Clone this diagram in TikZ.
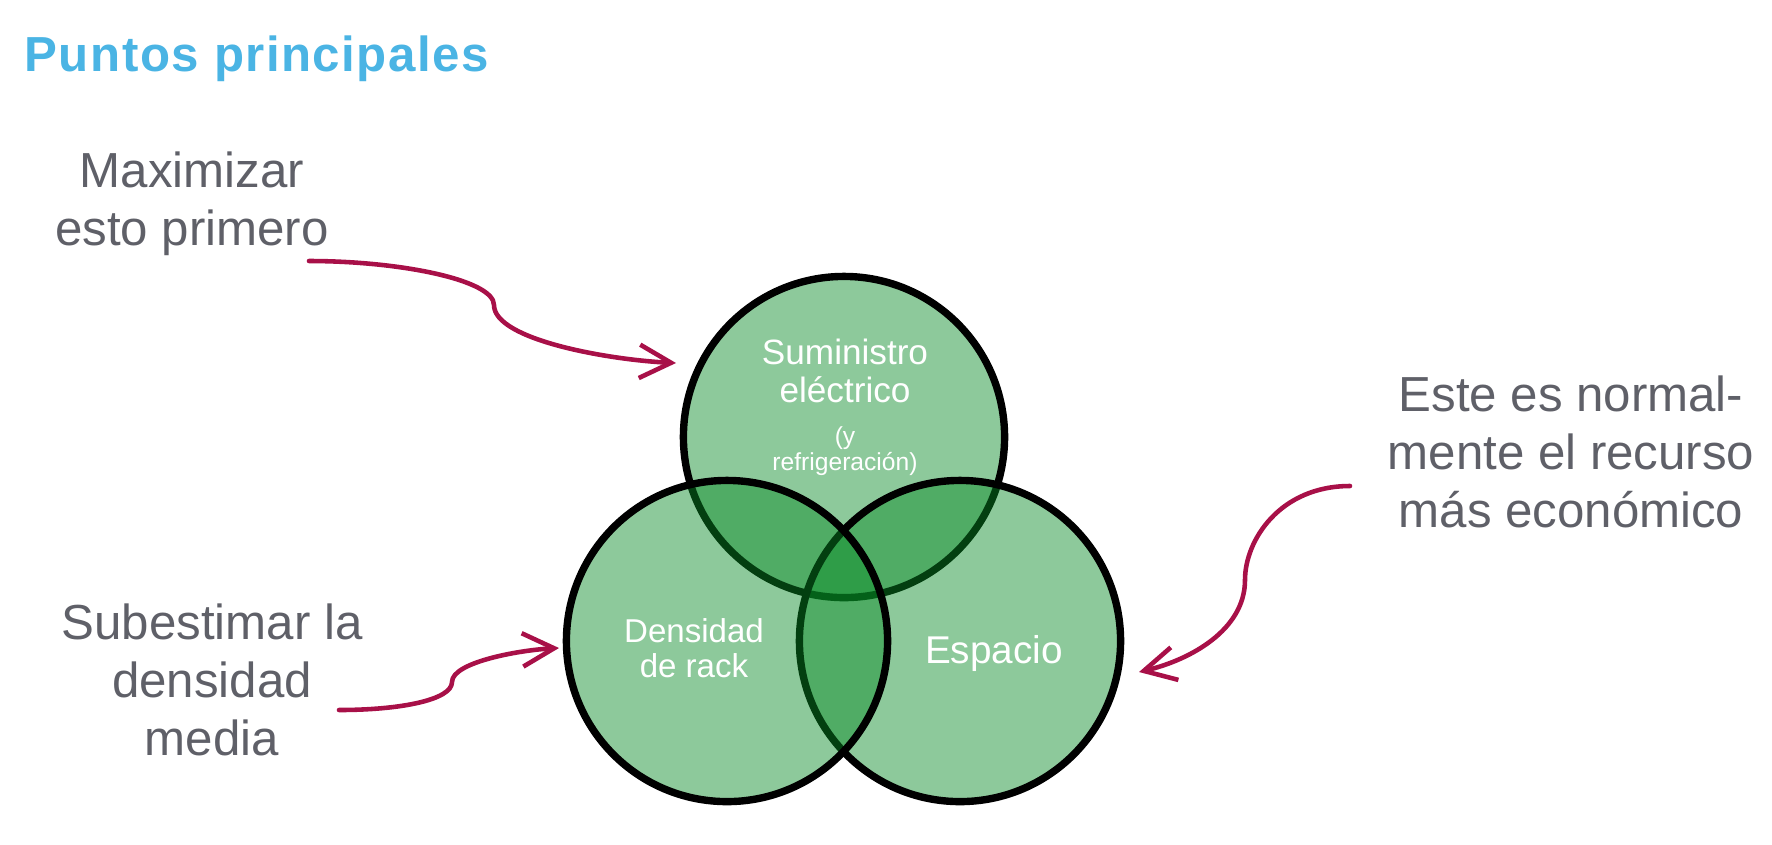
\documentclass[tikz,border=0pt]{standalone}
\usepackage{fontspec}
\setmainfont{Liberation Sans}
\usetikzlibrary{positioning, arrows.meta}

\definecolor{titleblue}{RGB}{74,180,228}
\definecolor{notegray}{RGB}{95,96,104}
\definecolor{arrowred}{RGB}{168,16,72}
\definecolor{vennfill}{RGB}{7,138,37}

\begin{document}
\begin{tikzpicture}[x=0.01cm, y=-0.01cm,
    venn/.style={circle, draw=black, line width=2.1pt, fill=vennfill, fill opacity=0.46, minimum size=3.21cm, inner sep=0pt},
    notetext/.style={text=notegray, align=center, inner sep=0pt, font=\fontsize{14}{16.4}\selectfont},
    inset/.style={text=white, align=center, inner sep=0pt},
    pointer/.style={arrowred, line width=1.3pt, line cap=round, -{Straight Barb[length=9pt, width=9.5pt]}}]
    \useasboundingbox (0,0) rectangle (1772,844);

    % Title
    \node[anchor=base west, inner sep=0pt, text=titleblue, font=\fontsize{14}{16}\selectfont\bfseries\addfontfeature{LetterSpace=3}] (title) at (24,71) {Puntos principales};

    % Venn circles (top first, then right, then left)
    \node[venn] (power) at (844,437) {};
    \node[venn] (space) at (960,641) {};
    \node[venn] (rack) at (727,641) {};

    % Circle labels
    \node[inset, font=\fontsize{10}{10.6}\selectfont] (powerlbl) at (845,371) {Suministro\\eléctrico};
    \node[inset, font=\fontsize{7}{7.2}\selectfont] (coollbl) at (845,451) {(y\\refrigeración)};
    \node[inset, font=\fontsize{9.4}{10}\selectfont] (racklbl) at (694,648) {Densidad\\de rack};
    \node[inset, font=\fontsize{11}{12}\selectfont] (spacelbl) at (994,653) {Espacio};

    % Side notes
    \node[notetext] (first) at (192,204) {Maximizar\\esto primero};
    \node[notetext] (under) at (212,680) {Subestimar la\\densidad\\media};
    \node[notetext] (cheap) at (1571,452) {Este es normal-\\mente el recurso\\más económico};

    % Arrows
    \coordinate (firsts) at (309,261);
    \coordinate (firste) at (676,363);
    \coordinate (unders) at (339,710);
    \coordinate (undere) at (559,648);
    \coordinate (cheaps) at (1350,486);
    \coordinate (cheape) at (1139,672);
    \draw[pointer] (firsts) .. controls (400,261) and (494,280) .. (494,305) .. controls (494,340) and (610,360) .. (firste);
    \draw[pointer] (unders) .. controls (400,710) and (452,700) .. (452,682) .. controls (452,662) and (520,650) .. (undere);
    \draw[pointer] (cheaps) .. controls (1280,486) and (1245,540) .. (1245,580) .. controls (1245,630) and (1190,660) .. (cheape);
\end{tikzpicture}
\end{document}
